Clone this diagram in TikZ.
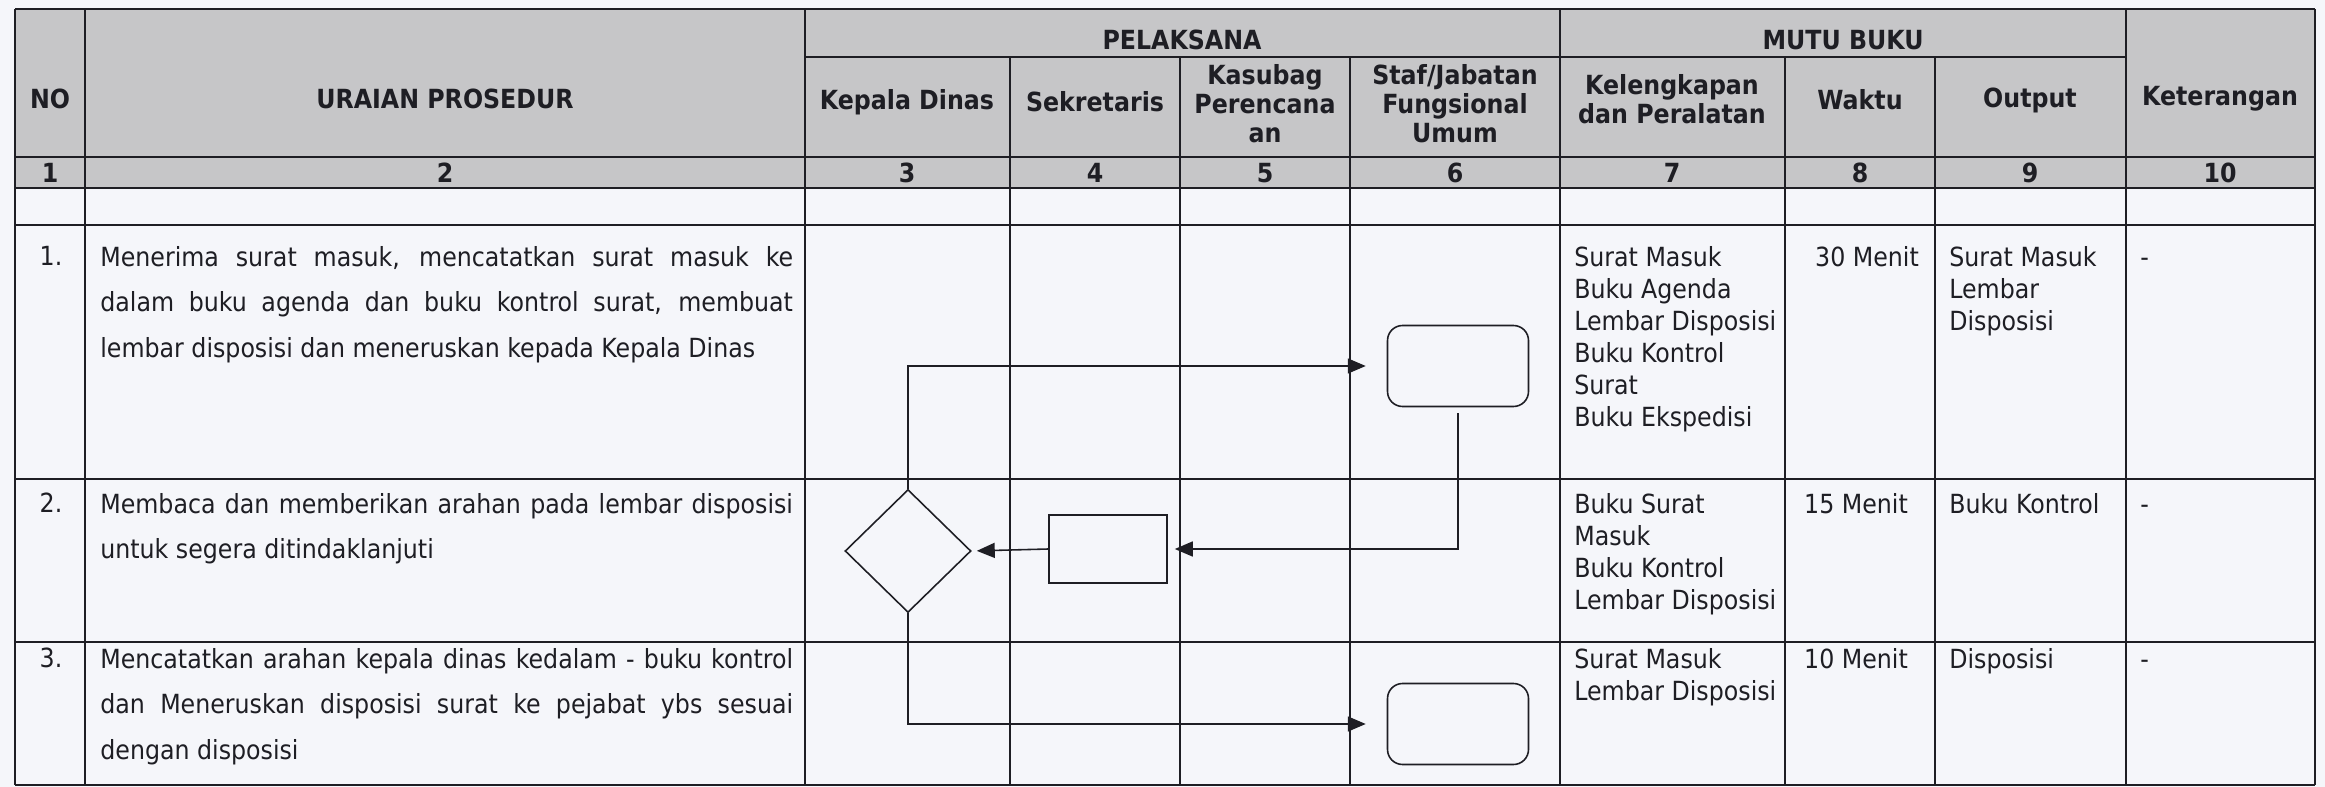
\documentclass[tikz,border=0pt]{standalone}
\usepackage{fontspec}
\setmainfont{DejaVu Sans Condensed}
\usetikzlibrary{shapes.geometric,arrows.meta}
\definecolor{hdrgray}{RGB}{198,198,200}
\definecolor{paper}{RGB}{245,246,250}
\definecolor{ink}{RGB}{30,30,36}

\begin{document}
\begin{tikzpicture}[x=0.02cm, y=-0.02cm,
   hdr/.style={font=\bfseries\fontsize{15}{16.5}\selectfont, align=center, inner sep=0pt, text=ink},
   cell/.style={anchor=north west, align=left, inner sep=0pt, text=ink,
                font=\fontsize{15}{18.2}\selectfont},
   urai/.style={cell, font=\fontsize{15}{25.8}\selectfont},
   grid/.style={draw=ink, line width=0.8pt},
   thick grid/.style={draw=ink, line width=1.3pt},
   termbox/.style={draw=ink, line width=0.9pt, rounded corners=0.3cm,
                   minimum width=2.82cm, minimum height=1.62cm, inner sep=0pt},
   procbox/.style={draw=ink, line width=0.9pt, minimum width=2.36cm,
                   minimum height=1.36cm, inner sep=0pt},
   decbox/.style={draw=ink, line width=0.9pt, diamond, aspect=1,
                  minimum width=2.52cm, minimum height=2.46cm, inner sep=0pt},
   flow/.style={draw=ink, line width=0.9pt,
                -{Triangle[length=0.36cm, width=0.3cm]}}]

\useasboundingbox[fill=paper] (0,0) rectangle (2325,787);
\fill[hdrgray] (15,9) rectangle (2315,188);

\draw[thick grid] (15,9) -- (2315,9) (805,57) -- (2126,57)
   (15,157) -- (2315,157) (15,188) -- (2315,188);
\draw[grid] (15,225) -- (2315,225) (15,479) -- (2315,479)
   (15,642) -- (2315,642) (15,785) -- (2315,785);
\draw[grid] (15,9) -- (15,785) (85,9) -- (85,785) (805,9) -- (805,785)
   (1010,57) -- (1010,785) (1180,57) -- (1180,785) (1350,57) -- (1350,785)
   (1560,9) -- (1560,785) (1785,57) -- (1785,785) (1935,57) -- (1935,785)
   (2126,9) -- (2126,785) (2315,9) -- (2315,785);

\node[hdr] (no) at (50,99) {NO};
\node[hdr] (uraian) at (445,99) {URAIAN PROSEDUR};
\node[hdr] (pel) at (1182,40) {PELAKSANA};
\node[hdr] (mutu) at (1843,40) {MUTU BUKU};
\node[hdr] (kadis) at (907,102) {Kepala Dinas};
\node[hdr] (sekr) at (1095,102) {Sekretaris};
\node[hdr] (kasub) at (1265,104) {Kasubag\\Perencana\\an};
\node[hdr] (staf) at (1455,104) {Staf/Jabatan\\Fungsional\\Umum};
\node[hdr] (kelengk) at (1672,99) {Kelengkapan\\dan Peralatan};
\node[hdr] (waktu) at (1860,100) {Waktu};
\node[hdr] (output) at (2030,100) {Output};
\node[hdr] (ket) at (2220,99) {Keterangan};

\node[hdr] (n1) at (50,173) {1};
\node[hdr] (n2) at (445,173) {2};
\node[hdr] (n3) at (907,173) {3};
\node[hdr] (n4) at (1095,173) {4};
\node[hdr] (n5) at (1265,173) {5};
\node[hdr] (n6) at (1455,173) {6};
\node[hdr] (n7) at (1672,173) {7};
\node[hdr] (n8) at (1860,173) {8};
\node[hdr] (n9) at (2030,173) {9};
\node[hdr] (n10) at (2220,173) {10};

\node[urai, anchor=north] (no1) at (51,246) {1.};
\node[urai, anchor=north] (no2) at (51,493) {2.};
\node[urai, anchor=north] (no3) at (51,648) {3.};

\node[urai] (ur1) at (100,246)
   {\makebox[13.86cm][s]{Menerima surat masuk, mencatatkan surat masuk ke}\\
    \makebox[13.86cm][s]{dalam buku agenda dan buku kontrol surat, membuat}\\
    lembar disposisi dan meneruskan kepada Kepala Dinas};
\node[urai] (ur2) at (100,493)
   {\makebox[13.86cm][s]{Membaca dan memberikan arahan pada lembar disposisi}\\
    untuk segera ditindaklanjuti};
\node[urai] (ur3) at (100,648)
   {\makebox[13.86cm][s]{Mencatatkan arahan kepala dinas kedalam - buku kontrol}\\
    \makebox[13.86cm][s]{dan Meneruskan disposisi surat ke pejabat ybs sesuai}\\
    dengan disposisi};

\node[cell] (kl1) at (1574,246) {Surat Masuk\\Buku Agenda\\Lembar Disposisi\\Buku Kontrol\\Surat\\Buku Ekspedisi};
\node[cell] (kl2) at (1574,493) {Buku Surat\\Masuk\\Buku Kontrol\\Lembar Disposisi};
\node[cell] (kl3) at (1574,648) {Surat Masuk\\Lembar Disposisi};

\node[cell, anchor=north] (wk1) at (1867,246) {30 Menit};
\node[cell, anchor=north] (wk2) at (1856,493) {15 Menit};
\node[cell, anchor=north] (wk3) at (1856,648) {10 Menit};

\node[cell] (op1) at (1949,246) {Surat Masuk\\Lembar\\Disposisi};
\node[cell] (op2) at (1949,493) {Buku Kontrol};
\node[cell] (op3) at (1949,648) {Disposisi};

\node[cell] (kt1) at (2140,246) {\vphantom{Sk}-};
\node[cell] (kt2) at (2140,493) {\vphantom{Sk}-};
\node[cell] (kt3) at (2140,648) {\vphantom{Sk}-};

\node[termbox] (stafA) at (1458,366) {};
\node[decbox] (kdDec) at (908,551) {};
\node[procbox] (sekBox) at (1108,549) {};
\node[termbox] (stafB) at (1458,724) {};

\draw[flow, shorten >=0.42cm] (kdDec.north) |- (stafA.west);
\draw[flow, shorten <=0.12cm, shorten >=0.14cm] (stafA.south) |- (sekBox.east);
\draw[flow, shorten >=0.1cm] (sekBox.west) -- (kdDec.east);
\draw[flow, shorten >=0.42cm] (kdDec.south) |- (stafB.west);

\end{tikzpicture}
\end{document}
